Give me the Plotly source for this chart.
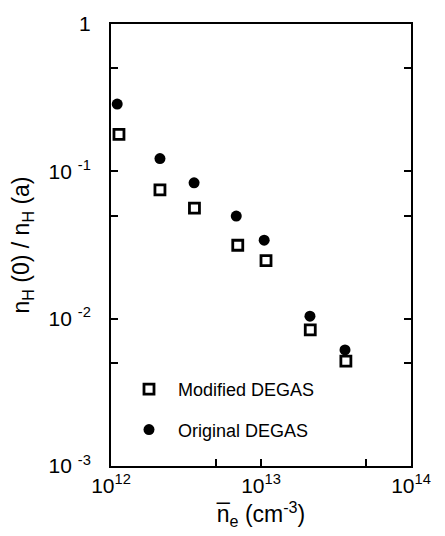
import plotly.graph_objects as go

# data
ne_orig = [1.10e12, 2.12e12, 3.58e12, 6.84e12, 1.05e13, 2.12e13, 3.63e13]
ratio_orig = [0.286, 0.122, 0.0835, 0.0497, 0.0341, 0.0104, 0.00613]
ne_mod = [1.13e12, 2.12e12, 3.60e12, 7.0e12, 1.08e13, 2.13e13, 3.68e13]
ratio_mod = [0.178, 0.0749, 0.0562, 0.0315, 0.0248, 0.0084, 0.00515]

x_tickvals = [1e12, 1e13, 1e14]
x_ticktext = ["10<sup>12</sup>", "10<sup>13</sup>", "10<sup>14</sup>"]
x_minorvals = [5e12, 5e13]
y_tickvals = [1e-3, 1e-2, 1e-1, 1]
y_ticktext = ["10 <sup>-3</sup>", "10 <sup>-2</sup>", "10 <sup>-1</sup>", "1"]
y_minorvals = [5e-3, 5e-2, 5e-1]

FONT = "Liberation Sans, Arial, Helvetica, sans-serif"

fig = go.Figure()
fig.add_trace(go.Scatter(
    x=ne_mod, y=ratio_mod, mode="markers", name="Modified DEGAS",
    legendgroup="a",
    marker=dict(symbol="square", size=10, color="white",
                line=dict(color="black", width=2.8)),
))
fig.add_trace(go.Scatter(
    x=ne_orig, y=ratio_orig, mode="markers", name="Original DEGAS",
    legendgroup="b",
    marker=dict(symbol="circle", size=11, color="black",
                line=dict(color="black", width=0)),
))

fig.update_layout(
    width=445, height=536,
    margin=dict(l=111, r=34, t=19, b=70),
    paper_bgcolor="white", plot_bgcolor="white",
    font=dict(family=FONT, color="black", size=21),
    showlegend=True,
    legend=dict(x=0.03, y=0.215, xanchor="left", yanchor="top",
                bgcolor="rgba(0,0,0,0)", font=dict(size=18, family=FONT),
                itemwidth=48, tracegroupgap=14),
    xaxis=dict(
        type="log", range=[12, 14],
        tickmode="array", tickvals=x_tickvals, ticktext=x_ticktext,
        ticks="inside", ticklen=7, tickwidth=1.5, tickcolor="black",
        minor=dict(tickmode="array", tickvals=x_minorvals, ticks="inside",
                   ticklen=7, tickwidth=1.5, tickcolor="black", showgrid=False),
        showline=True, linecolor="black", linewidth=2, mirror=True,
        showgrid=False, zeroline=False,
        tickfont=dict(size=21, family=FONT),
        title=dict(text="n\u0305<sub>e</sub> (cm<sup>-3</sup>)",
                   font=dict(size=23, family=FONT), standoff=10),
    ),
    yaxis=dict(
        type="log", range=[-3, 0],
        tickmode="array", tickvals=y_tickvals, ticktext=y_ticktext,
        ticks="inside", ticklen=7, tickwidth=1.5, tickcolor="black",
        minor=dict(tickmode="array", tickvals=y_minorvals, ticks="inside",
                   ticklen=7, tickwidth=1.5, tickcolor="black", showgrid=False),
        showline=True, linecolor="black", linewidth=2, mirror="ticks",
        showgrid=False, zeroline=False,
        tickfont=dict(size=21, family=FONT),
        ticklabelstandoff=14,
        title=dict(text="n<sub>H</sub> (0) / n<sub>H</sub> (a)",
                   font=dict(size=23, family=FONT), standoff=12),
    ),
)

fig.write_html("out.html")
